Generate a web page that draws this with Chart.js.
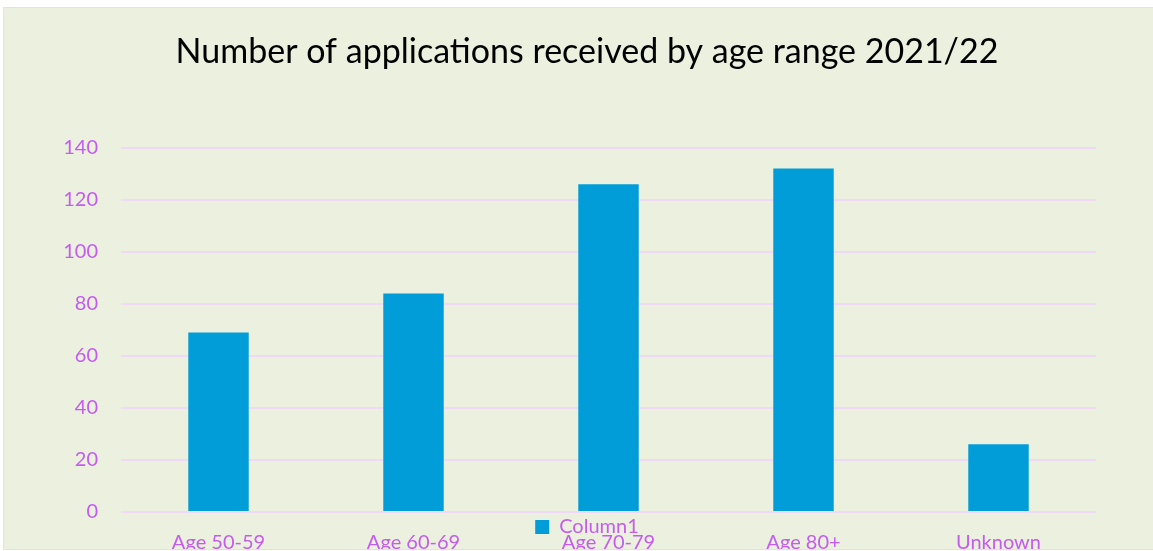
<!DOCTYPE html>
<html>
<head>
<meta charset="utf-8">
<script src="https://cdn.jsdelivr.net/npm/chart.js@4"></script>
<style>
  body{margin:0;background:#fff;}
  .caixa{position:absolute;left:3px;top:7px;width:1150px;height:541px;background:#EBF1DE;border-top:1px solid #F0D9F6;border-left:1px solid #F0D9F6;border-bottom:1px solid #F0D9F6;overflow:hidden;}
</style>
</head>
<body>
<div class="caixa"><canvas id="grafico"></canvas></div>
<script>
// dados
const categorias = ['Age 50-59', 'Age 60-69', 'Age 70-79', 'Age 80+', 'Unknown'];
const valores = [69, 84, 126, 132, 26];
const nomeSerie = 'Column1';
const titulo = 'Number of applications received by age range 2021/22';

const roxo = '#C45CF0';
const grade = '#F0D9F6';
const azul = '#009DD9';
const fonte = 'Lato, "Open Sans", sans-serif';

const ctx = document.getElementById('grafico');
ctx.width = 1150;
ctx.height = 541;

new Chart(ctx, {
    type: 'bar',
    data: {
        labels: categorias,
        datasets: [{
            label: nomeSerie,
            data: valores,
            backgroundColor: azul,
            borderWidth: 0,
            categoryPercentage: 1,
            barPercentage: 0.31
        }]
    },
    options: {
        responsive: false,
        animation: false,
        layout: { padding: { left: 16, right: 0, top: 0, bottom: 0 } },
        plugins: {
            title: {
                display: true,
                text: titulo,
                color: '#000',
                font: { family: fonte, size: 34, weight: 'normal' },
                padding: { top: 24, bottom: 75 }
            },
            legend: {
                position: 'bottom',
                weight: -1, //legenda logo abaixo da area do grafico
                labels: {
                    color: roxo,
                    font: { family: fonte, size: 20 },
                    boxWidth: 14,
                    boxHeight: 14,
                    padding: 5
                }
            },
            tooltip: { enabled: false }
        },
        scales: {
            x: {
                grid: { display: false, drawTicks: false },
                border: { display: false },
                ticks: { color: roxo, font: { family: fonte, size: 20 }, padding: -16, maxRotation: 0, autoSkip: false },
                afterFit: function(scale){
                    scale.height = 2;
                    //rotulos passam por cima da legenda, sem recorte
                    scale._computeLabelArea = function(){ return undefined; };
                }
            },
            y: {
                min: 0,
                max: 140,
                grid: { color: grade, lineWidth: 2, drawTicks: false },
                border: { display: false },
                ticks: { stepSize: 20, color: roxo, font: { family: fonte, size: 20 }, padding: 23 },
                afterFit: function(scale){ scale.width = 101; }
            },
            direita: {
                type: 'linear',
                position: 'right',
                grid: { display: false, drawTicks: false },
                border: { display: false },
                ticks: { display: false },
                afterFit: function(scale){ scale.width = 58; }
            }
        }
    }
});
</script>
</body>
</html>
